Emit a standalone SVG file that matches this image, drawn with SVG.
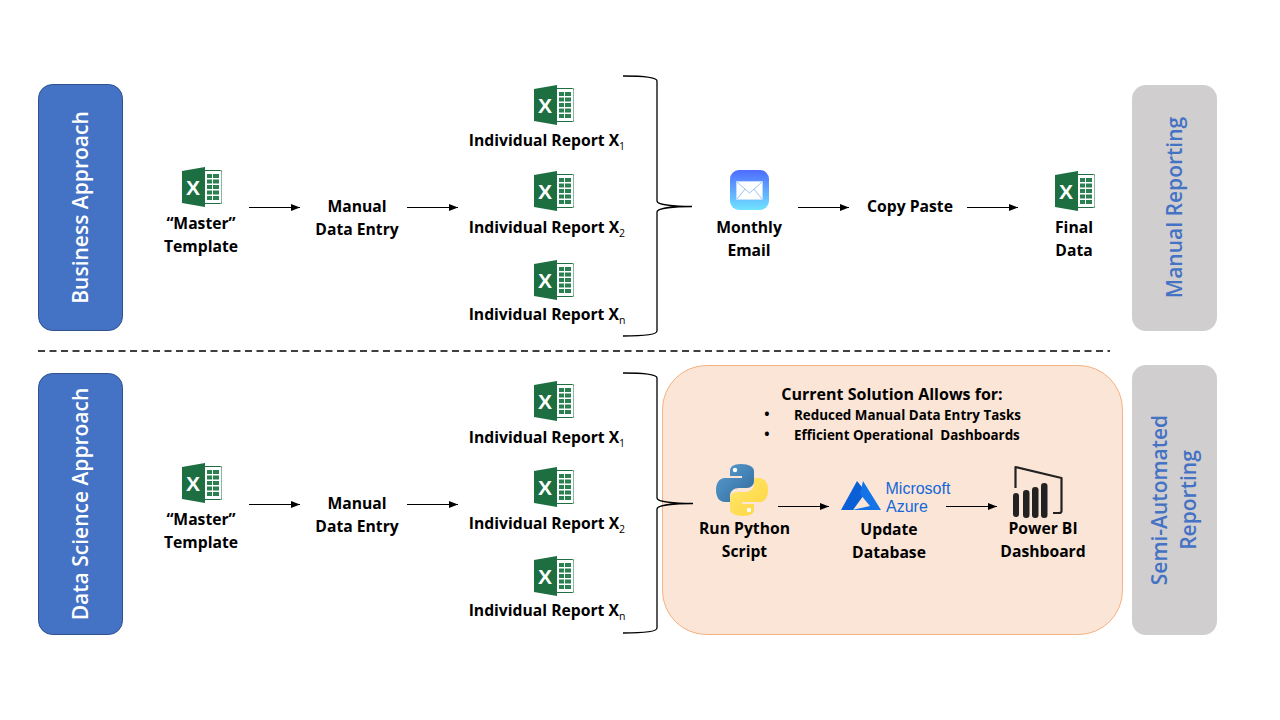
<svg xmlns="http://www.w3.org/2000/svg" xmlns:xlink="http://www.w3.org/1999/xlink" width="1280" height="720" viewBox="0 0 1280 720">
<style>
text{font-family:"Open Sans","Noto Sans","Liberation Sans",sans-serif;font-weight:700;fill:#000;font-size:15.7px;text-anchor:middle}
.side{fill:#4472c4;stroke:#2f528f;stroke-width:1}
.gray{fill:#d0cece}
.st{fill:#fff;font-size:21px;font-weight:600}
.sg{fill:#4472c4;font-size:21px;font-weight:600}
.c{fill:none;stroke:#000;stroke-width:1.2}
.b{fill:none;stroke:#000;stroke-width:1.3}
.sub{font-size:10.500px;font-weight:400}
.m{font-size:13.400px;text-anchor:start}
.az{font-family:"Liberation Sans",sans-serif;font-size:16px;font-weight:400;fill:#1467d8;text-anchor:start}
.bul{font-size:14px}
</style>
<defs>
<marker id="a" markerWidth="10" markerHeight="8" refX="9" refY="3.5" orient="auto" markerUnits="userSpaceOnUse"><path d="M0 0L9 3.5L0 7z" fill="#000"/></marker>
<linearGradient id="mail" x1="0" y1="0" x2="0" y2="1"><stop offset="0" stop-color="#4f6cff"/><stop offset="1" stop-color="#6fe3ff"/></linearGradient>
<linearGradient id="py1" x1="0" y1="0" x2="1" y2="1"><stop offset="0" stop-color="#5a9fd4"/><stop offset="1" stop-color="#306998"/></linearGradient>
<linearGradient id="py2" x1="0" y1="0" x2="1" y2="1"><stop offset="0" stop-color="#ffe873"/><stop offset="1" stop-color="#ffd43b"/></linearGradient>
<symbol id="xl" width="40" height="40" viewBox="0 0 40 40">
<rect x="15" y="3.500" width="25" height="33" rx="1.5" fill="#fff" stroke="#1d6f42" stroke-width="1"/>
<path d="M25 7h5v4h-5zM31 7h6v4h-6zM25 12.500h5v4h-5zM31 12.500h6v4h-6zM25 18h5v4h-5zM31 18h6v4h-6zM25 23.500h5v4h-5zM31 23.500h6v4h-6zM25 29h5v4h-5zM31 29h6v4h-6z" fill="#2a8050"/>
<path d="M0 4L23 0V40L0 36z" fill="#1d6f42"/>
<text x="11" y="27.500" style="font-size:21px;font-weight:700;fill:#fff;font-family:'Liberation Sans',sans-serif">X</text>
</symbol>
</defs>

<g id="business-approach"><rect class="side" x="38.500" y="84.500" width="84" height="246" rx="14"/><text class="st" transform="translate(88 207.500) rotate(-90)">Business Approach</text></g>
<g id="manual-reporting"><rect class="gray" x="1132" y="85" width="85" height="246" rx="14"/><text class="sg" transform="translate(1182 207.500) rotate(-90)">Manual Reporting</text></g>
<g id="data-science-approach"><rect class="side" x="38.500" y="373.500" width="84" height="261" rx="14"/><text class="st" transform="translate(88 504) rotate(-90)">Data Science Approach</text></g>
<g id="semi-automated-reporting"><rect class="gray" x="1132" y="365" width="85" height="270" rx="14"/><text class="sg" transform="translate(1167 500) rotate(-90)">Semi-Automated</text><text class="sg" transform="translate(1196 500) rotate(-90)">Reporting</text></g>

<g id="solution-panel"><rect x="662.500" y="365.500" width="460" height="269" rx="44" fill="#fbe5d6" stroke="#f4b183" stroke-width="1"/>
<text x="892" y="400" style="font-size:16px">Current Solution Allows for:</text>
<text x="767" y="419" class="bul">•</text><text class="m" x="794" y="420">Reduced Manual Data Entry Tasks</text>
<text x="767" y="439" class="bul">•</text><text class="m" x="794" y="440" xml:space="preserve">Efficient Operational  Dashboards</text></g>

<g id="connectors">
<path class="c" marker-end="url(#a)" d="M249 207.500H300"/>
<path class="c" marker-end="url(#a)" d="M407 207.500H458"/>
<path class="c" marker-end="url(#a)" d="M798 207.500H849"/>
<path class="c" marker-end="url(#a)" d="M967 207.500H1018"/>
<path class="c" marker-end="url(#a)" d="M249 504.500H300"/>
<path class="c" marker-end="url(#a)" d="M407 504.500H458"/>
<path class="c" marker-end="url(#a)" d="M778 506.500H829"/>
<path class="c" marker-end="url(#a)" d="M946 506.500H997"/>
<path class="b" d="M623 76C642 76 657 77 657 81V201C657 205 675 206.500 692 206.500C675 206.500 657 208 657 212V331C657 335 642 336 623 336"/>
<path class="b" d="M623 373C642 373 657 374 657 378V498C657 502 675 503.500 693 503.500C675 503.500 657 505 657 509V628C657 632 642 633 623 633"/>
<path d="M38 351H1110" fill="none" stroke="#000" stroke-width="1.5" stroke-dasharray="7 4.500"/>
</g>

<g id="master-1"><use xlink:href="#xl" href="#xl" x="182" y="167"/><text x="201" y="229">“Master”</text><text x="201" y="252">Template</text></g>
<g id="entry-1"><text x="357" y="212">Manual</text><text x="357" y="235">Data Entry</text></g>
<g id="report-1a"><use xlink:href="#xl" href="#xl" x="534" y="85"/><text x="547" y="146">Individual Report X<tspan class="sub" dy="4">1</tspan></text></g>
<g id="report-1b"><use xlink:href="#xl" href="#xl" x="534" y="171"/><text x="547" y="233">Individual Report X<tspan class="sub" dy="4">2</tspan></text></g>
<g id="report-1c"><use xlink:href="#xl" href="#xl" x="534" y="260"/><text x="547" y="320">Individual Report X<tspan class="sub" dy="4">n</tspan></text></g>
<g id="monthly-email"><rect x="730" y="170" width="39" height="40" rx="9" fill="url(#mail)"/><rect x="736.500" y="181.500" width="26" height="18" fill="#fff" stroke="#cfe3ff" stroke-width=".6"/><path d="M737 182L749.500 193L762 182M737 199L745 189M762 199L754 189" fill="none" stroke="#9cc4f5" stroke-width="1"/><text x="749" y="233">Monthly</text><text x="749" y="256">Email</text></g>
<g id="copy-paste"><text x="910" y="212">Copy Paste</text></g>
<g id="final-data"><use xlink:href="#xl" href="#xl" x="1055" y="171"/><text x="1074" y="233">Final</text><text x="1074" y="256">Data</text></g>

<g id="master-2"><use xlink:href="#xl" href="#xl" x="182" y="463"/><text x="201" y="525">“Master”</text><text x="201" y="548">Template</text></g>
<g id="entry-2"><text x="357" y="509">Manual</text><text x="357" y="532">Data Entry</text></g>
<g id="report-2a"><use xlink:href="#xl" href="#xl" x="534" y="381"/><text x="547" y="443">Individual Report X<tspan class="sub" dy="4">1</tspan></text></g>
<g id="report-2b"><use xlink:href="#xl" href="#xl" x="534" y="467"/><text x="547" y="529">Individual Report X<tspan class="sub" dy="4">2</tspan></text></g>
<g id="report-2c"><use xlink:href="#xl" href="#xl" x="534" y="556"/><text x="547" y="616">Individual Report X<tspan class="sub" dy="4">n</tspan></text></g>
<g id="python-script">
<path d="M741 464C733 464 730 467 730 471V476H742V478H725C719 478 716 483 716 490C716 497 719 502 725 502H730V496C730 491 734 488 739 488H747C751 488 754 485 754 481V471C754 467 749 464 741 464Z" fill="url(#py1)"/>
<path d="M743 516C751 516 754 513 754 509V504H742V502H759C765 502 768 497 768 490C768 483 765 478 759 478H754V484C754 489 750 492 745 492H737C733 492 730 495 730 499V509C730 513 735 516 743 516Z" fill="url(#py2)"/>
<circle cx="735" cy="470" r="2.200" fill="#fff"/><circle cx="749" cy="510" r="2.200" fill="#fff"/>
<text x="744.500" y="534">Run Python</text><text x="744.500" y="557">Script</text></g>
<g id="update-database">
<path d="M857 481L841 510H853L866 492Z" fill="#0a5fd6"/><path d="M863 481L881 510H852L870 506L860 494Z" fill="#1473e6"/>
<text class="az" x="885.500" y="493.500">Microsoft</text><text class="az" x="886" y="512">Azure</text>
<text x="889" y="535">Update</text><text x="889" y="558">Database</text></g>
<g id="power-bi">
<path d="M1015.500 488V467L1061.500 478V511C1061.500 512.500 1060 513 1059 513H1053" fill="none" stroke="#222" stroke-width="2.200" stroke-linejoin="round"/>
<rect x="1013" y="493" width="6" height="24" rx="3" fill="#222"/><rect x="1023" y="490" width="6.500" height="28" rx="3" fill="#222"/><rect x="1032" y="487" width="6.500" height="31" rx="3" fill="#222"/><rect x="1041" y="483" width="6.500" height="35" rx="3" fill="#222"/>
<text x="1043" y="534">Power BI</text><text x="1043" y="557">Dashboard</text></g>
</svg>
